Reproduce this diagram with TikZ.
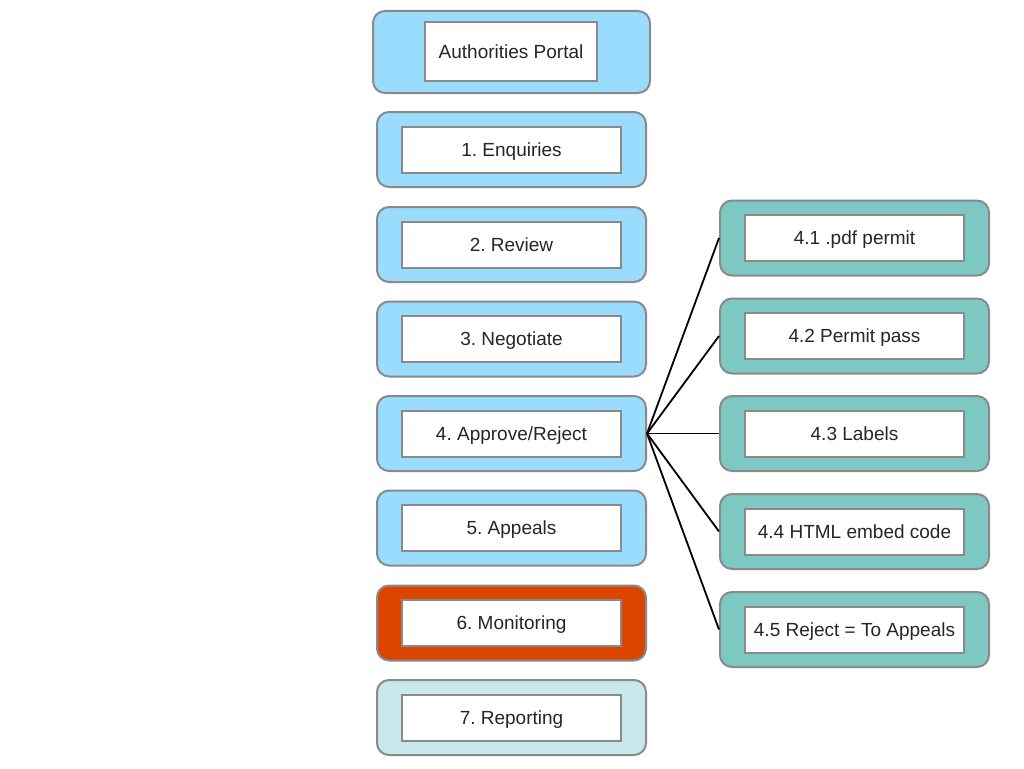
\documentclass[tikz,border=0pt]{standalone}
\usepackage{fontspec}
\setmainfont{Liberation Sans}
\frenchspacing
\begin{document}
\begin{tikzpicture}[x=1pt,y=-1pt,
  outerbox/.style={draw=boxgray, line width=2pt, rounded corners=12pt,
    minimum width=269pt, minimum height=75pt, inner sep=0pt},
  innerbox/.style={draw=boxgray, line width=2pt, fill=white,
    minimum width=219pt, minimum height=46pt, inner sep=0pt,
    text height=13.6pt, text depth=0pt,
    font=\fontsize{19}{22}\selectfont, text=black!85},
  link/.style={draw=black, line width=1.8pt}
]
\definecolor{boxgray}{HTML}{8A8A8A}
\definecolor{skyfill}{HTML}{99DCFD}
\definecolor{tealfill}{HTML}{7DC8C3}
\definecolor{alertfill}{HTML}{DB4500}
\definecolor{palefill}{HTML}{C9E8EC}
\useasboundingbox (0,0) rectangle (1024,768);

% portal header
\node[outerbox, fill=skyfill, minimum width=277pt, minimum height=82pt] (portal) at (511.5,52) {};
\node[innerbox, minimum width=172pt, minimum height=59pt] (portalt) at (511,51.5) {Authorities Portal};

% main workflow steps
\foreach \n/\y/\c/\t in {
  1/149.5/skyfill/{1. Enquiries},
  2/244.5/skyfill/{2. Review},
  3/339/skyfill/{3. Negotiate},
  4/433.5/skyfill/{4. Approve/Reject},
  5/528/skyfill/{5. Appeals},
  6/623/alertfill/{6. Monitoring},
  7/717.5/palefill/{7. Reporting}}{
  \node[outerbox, fill=\c] (s\n) at (511.5,\y) {};
  \node[innerbox] (s\n t) at (511.5,\y) {\t};
}

% outcomes of step 4
\foreach \n/\y/\t in {
  1/238/{4.1 .pdf permit},
  2/336/{4.2 Permit pass},
  3/433.5/{4.3 Labels},
  4/531.5/{4.4 HTML embed code},
  5/629.5/{4.5 Reject = To Appeals}}{
  \node[outerbox, fill=tealfill] (o\n) at (854.5,\y) {};
  \node[innerbox] (o\n t) at (854.5,\y) {\t};
}

\foreach \n in {1,...,5}{
  \draw[link] (s4.east) -- (o\n.west);
}
\end{tikzpicture}
\end{document}
